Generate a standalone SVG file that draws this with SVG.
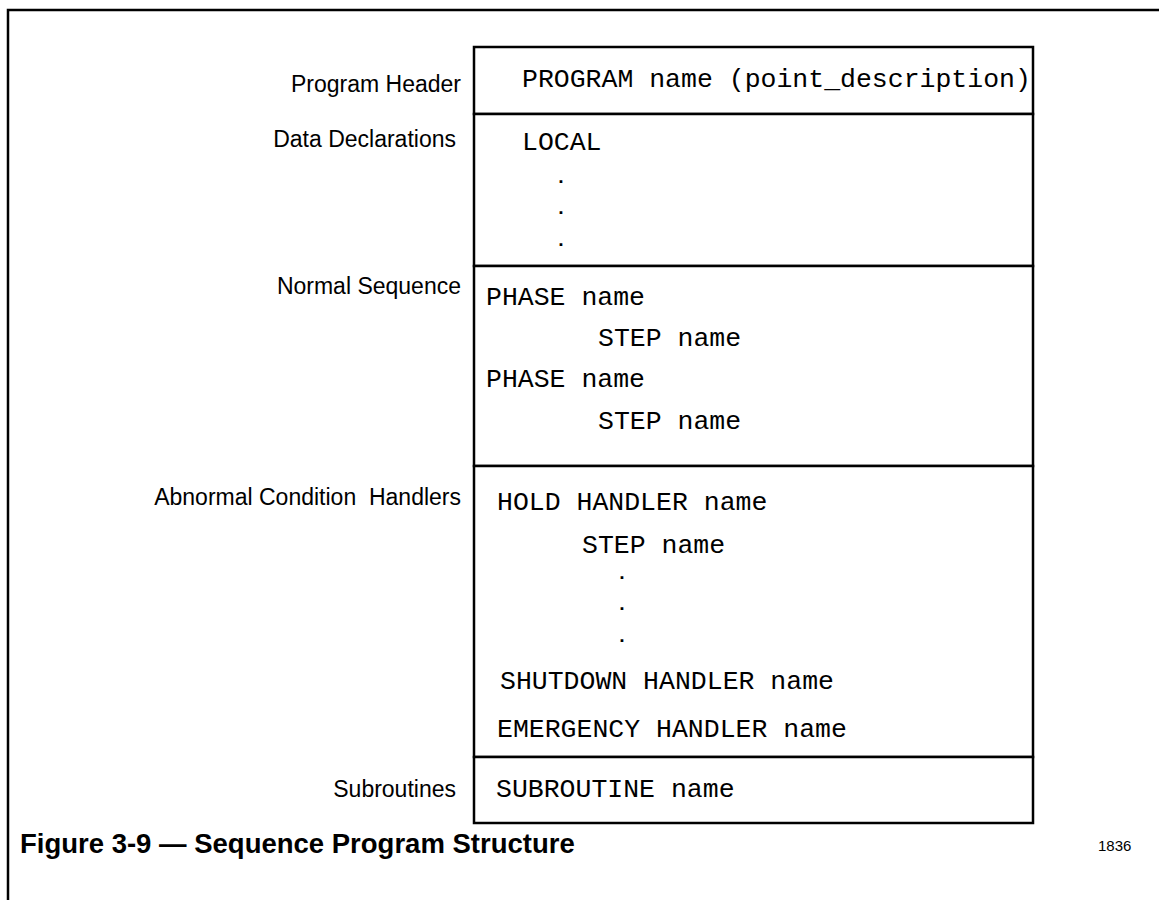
<svg xmlns="http://www.w3.org/2000/svg" width="1159" height="900" viewBox="0 0 1159 900">
  <style>
    .frame { fill: none; stroke: #000; stroke-width: 2.5; }
    .cell { fill: #fff; stroke: #000; stroke-width: 2.5; }
    .label { font-family: "Liberation Sans", Arial, sans-serif; font-size: 23px; fill: #000; text-anchor: end; white-space: pre; }
    .code { font-family: "Liberation Mono", "Courier New", monospace; font-size: 26.5px; fill: #000; white-space: pre; }
    .dot { font-family: "Liberation Mono", "Courier New", monospace; font-size: 19px; font-weight: bold; fill: #000; text-anchor: middle; }
    .caption { font-family: "Liberation Sans", Arial, sans-serif; font-weight: bold; font-size: 27.5px; fill: #000; }
    .ref { font-family: "Liberation Sans", Arial, sans-serif; font-size: 15px; fill: #000; }
  </style>
  <rect width="1159" height="900" fill="#fff"/>

  <!-- page frame -->
  <path class="frame" d="M8,900 V10 H1159"/>

  <!-- section labels -->
  <g id="labels">
    <text class="label" x="461" y="92">Program Header</text>
    <text class="label" x="456" y="147">Data Declarations</text>
    <text class="label" x="461" y="294">Normal Sequence</text>
    <text class="label" x="461" y="505">Abnormal Condition  Handlers</text>
    <text class="label" x="456" y="797">Subroutines</text>
  </g>

  <!-- program structure blocks -->
  <g id="header">
    <rect class="cell" x="474" y="47" width="559" height="67"/>
    <text class="code" x="522" y="87">PROGRAM name (point_description)</text>
  </g>
  <g id="declarations">
    <rect class="cell" x="474" y="114" width="559" height="152"/>
    <text class="code" x="522" y="150">LOCAL</text>
    <text class="dot" x="561" y="183">.</text>
    <text class="dot" x="561" y="214">.</text>
    <text class="dot" x="561" y="246">.</text>
  </g>
  <g id="normal-sequence">
    <rect class="cell" x="474" y="266" width="559" height="200"/>
    <text class="code" x="486" y="305">PHASE name</text>
    <text class="code" x="598" y="346">STEP name</text>
    <text class="code" x="486" y="387">PHASE name</text>
    <text class="code" x="598" y="429">STEP name</text>
  </g>
  <g id="handlers">
    <rect class="cell" x="474" y="466" width="559" height="291"/>
    <text class="code" x="497" y="510">HOLD HANDLER name</text>
    <text class="code" x="582" y="553">STEP name</text>
    <text class="dot" x="622" y="579">.</text>
    <text class="dot" x="622" y="610">.</text>
    <text class="dot" x="622" y="642">.</text>
    <text class="code" x="500" y="689">SHUTDOWN HANDLER name</text>
    <text class="code" x="497" y="737">EMERGENCY HANDLER name</text>
  </g>
  <g id="subroutines">
    <rect class="cell" x="474" y="757" width="559" height="66"/>
    <text class="code" x="496" y="797">SUBROUTINE name</text>
  </g>

  <g id="connectors"/>

  <!-- caption -->
  <text class="caption" x="20" y="853">Figure 3-9 — Sequence Program Structure</text>
  <text class="ref" x="1098" y="851">1836</text>
</svg>
